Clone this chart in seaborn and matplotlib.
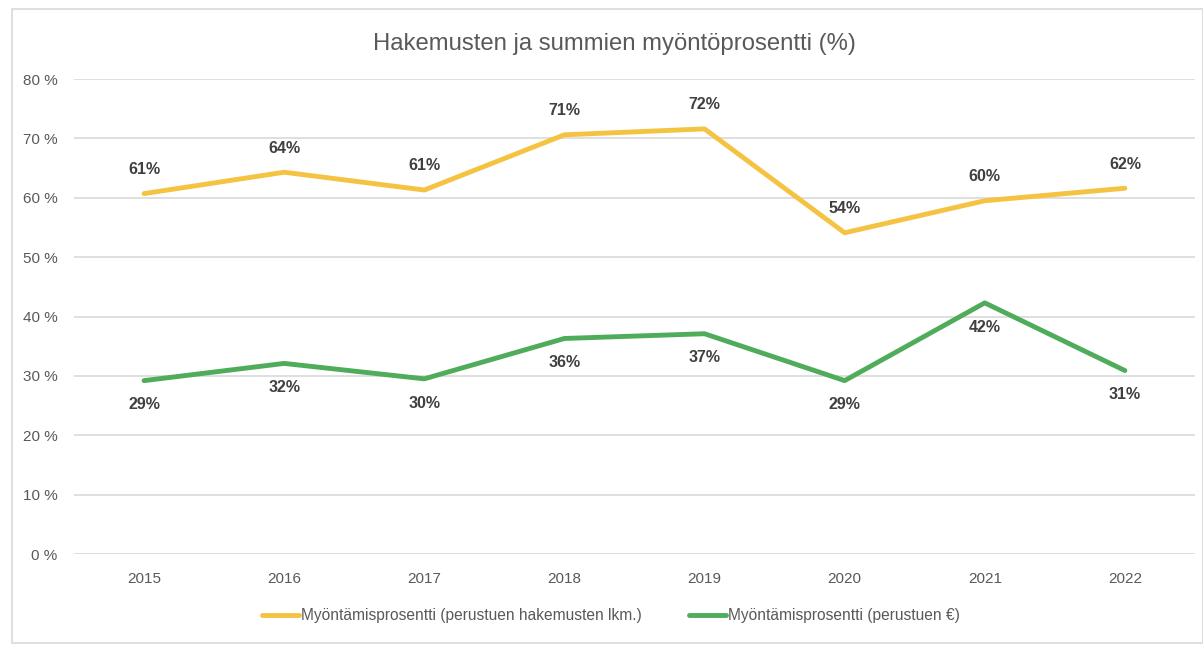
import matplotlib
matplotlib.use("Agg")
import matplotlib.pyplot as plt
import seaborn as sns
import pandas as pd
from matplotlib.patches import Rectangle

years = ["2015", "2016", "2017", "2018", "2019", "2020", "2021", "2022"]
hakemukset = [60.7, 64.3, 61.3, 70.6, 71.6, 54.1, 59.5, 61.6]
summat = [29.2, 32.1, 29.5, 36.3, 37.1, 29.2, 42.3, 30.9]
label_hak = ["61%", "64%", "61%", "71%", "72%", "54%", "60%", "62%"]
label_sum = ["29%", "32%", "30%", "36%", "37%", "29%", "42%", "31%"]
series_names = ["Myöntämisprosentti (perustuen hakemusten lkm.)",
                "Myöntämisprosentti (perustuen €)"]
title = "Hakemusten ja summien myöntöprosentti (%)"
yticks = [0, 10, 20, 30, 40, 50, 60, 70, 80]

df = pd.DataFrame({
    "Vuosi": years * 2,
    "Arvo": hakemukset + summat,
    "Sarja": [series_names[0]] * len(years) + [series_names[1]] * len(years),
})

sns.set_theme(style="white")
plt.rcParams['font.family'] = ['Liberation Sans', 'DejaVu Sans']

fig = plt.figure(figsize=(12.03, 6.46), dpi=100)
ax = fig.add_axes([0.0615, 0.1424, 0.9318, 0.7353])

colors = {series_names[0]: "#F5C342", series_names[1]: "#4EAC5B"}
sns.lineplot(data=df, x="Vuosi", y="Arvo", hue="Sarja", palette=colors,
             linewidth=3.5, ax=ax, sort=False, legend=True)

ax.set_xlim(-0.5, len(years) - 0.5)
ax.set_ylim(0, 80)
ax.set_yticks(yticks)
ax.set_yticklabels([f"{v} %" for v in yticks], color="#595959", fontsize=11)
ax.tick_params(axis="x", colors="#595959", labelsize=11, length=0, pad=13)
ax.tick_params(axis="y", length=0, pad=12)
for t in ax.get_yticklabels():
    t.set_color("#595959")
ax.yaxis.grid(True, color="#D9D9D9", linewidth=1.2)
ax.set_axisbelow(True)
for s in ax.spines.values():
    s.set_visible(False)
ax.set_xlabel("")
ax.set_ylabel("")

for i, (v, lab) in enumerate(zip(hakemukset, label_hak)):
    ax.annotate(lab, (i, v), xytext=(0, 12), textcoords="offset points",
                ha="center", va="bottom", fontsize=11.5, fontweight="bold",
                color="#404040")
for i, (v, lab) in enumerate(zip(summat, label_sum)):
    ax.annotate(lab, (i, v), xytext=(0, -12), textcoords="offset points",
                ha="center", va="top", fontsize=11.5, fontweight="bold",
                color="#404040")

fig.text(0.511, 0.932, title, ha="center", va="center", fontsize=17.2,
         color="#595959")

leg = ax.legend(loc="upper center", bbox_to_anchor=(0.479, -0.085), ncol=2,
                frameon=False, fontsize=11.2, handlelength=2.4,
                columnspacing=3.0, handletextpad=0.15)
for t in leg.get_texts():
    t.set_color("#595959")

fig.patches.append(Rectangle((12 / 1203, 3 / 646), 1 - 12 / 1203, 634 / 646,
                             transform=fig.transFigure, fill=False,
                             edgecolor="#D9D9D9", linewidth=1.2))

fig.savefig("out.png", dpi=100)
